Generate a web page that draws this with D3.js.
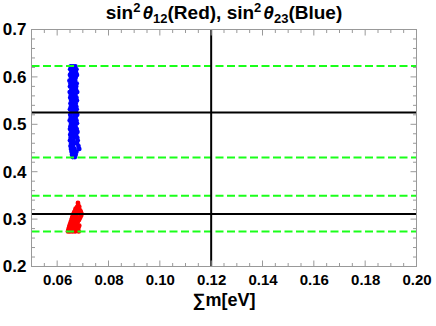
<!DOCTYPE html>
<html>
<head>
<meta charset="utf-8">
<script src="https://cdn.jsdelivr.net/npm/d3@7"></script>
<style>
  body { margin: 0; background: #fff; }
  text { font-family: "Liberation Sans", Arial, sans-serif; font-weight: bold; }
</style>
</head>
<body>
<div id="chart"></div>
<script>
// axis ranges and ticks
var xDomain = [0.05, 0.20];
var yDomain = [0.2, 0.7];
var xTicks = [0.06, 0.08, 0.10, 0.12, 0.14, 0.16, 0.18, 0.20];
var yTicks = [0.2, 0.3, 0.4, 0.5, 0.6, 0.7];

// reference lines
var blackH = [0.525, 0.311];
var blackV = [0.12];
var greenH = [0.623, 0.430, 0.349, 0.274];

// sin^2 theta23 (blue) points: [sum m, value]
var bluePts = [
  [0.0653,0.622],[0.0662,0.622],[0.0671,0.622],
  [0.0651,0.616],[0.0664,0.616],[0.0675,0.616],
  [0.0655,0.610],[0.0661,0.610],[0.0673,0.610],
  [0.0650,0.604],[0.0666,0.604],[0.0677,0.604],
  [0.0654,0.598],[0.0663,0.598],[0.0672,0.598],
  [0.0648,0.592],[0.0660,0.592],[0.0670,0.592],
  [0.0652,0.586],[0.0665,0.586],[0.0676,0.586],
  [0.0650,0.580],[0.0662,0.580],[0.0674,0.580],
  [0.0656,0.574],[0.0667,0.574],[0.0673,0.574],
  [0.0649,0.568],[0.0661,0.568],[0.0678,0.568],
  [0.0653,0.562],[0.0664,0.562],[0.0671,0.562],
  [0.0651,0.556],[0.0663,0.556],[0.0675,0.556],
  [0.0655,0.550],[0.0666,0.550],[0.0677,0.550],
  [0.0652,0.544],[0.0660,0.544],[0.0672,0.544],
  [0.0654,0.538],[0.0665,0.538],[0.0674,0.538],
  [0.0650,0.532],[0.0662,0.532],[0.0676,0.532],
  [0.0656,0.526],[0.0664,0.526],[0.0673,0.526],
  [0.0651,0.520],[0.0667,0.520],[0.0678,0.520],
  [0.0653,0.514],[0.0661,0.514],[0.0672,0.514],
  [0.0649,0.508],[0.0663,0.508],[0.0675,0.508],
  [0.0655,0.502],[0.0666,0.502],[0.0677,0.502],
  [0.0652,0.496],[0.0662,0.496],[0.0671,0.496],
  [0.0650,0.490],[0.0664,0.490],[0.0676,0.490],
  [0.0654,0.484],[0.0665,0.484],[0.0679,0.484],
  [0.0651,0.478],[0.0661,0.478],[0.0674,0.478],
  [0.0653,0.472],[0.0667,0.472],[0.0678,0.472],
  [0.0650,0.466],[0.0663,0.466],[0.0680,0.466],
  [0.0655,0.460],[0.0666,0.460],[0.0677,0.460],
  [0.0652,0.454],[0.0662,0.454],[0.0683,0.454],
  [0.0654,0.448],[0.0668,0.448],[0.0686,0.448],
  [0.0656,0.442],[0.0664,0.442],[0.0675,0.442],
  [0.0658,0.436],[0.0666,0.436],[0.0672,0.436],
  [0.0661,0.431],[0.0669,0.431]
];

// sin^2 theta12 (red) points
var redPts = [
  [0.0642,0.274],[0.0650,0.274],[0.0660,0.274],[0.0670,0.274],[0.0684,0.274],
  [0.0644,0.278],[0.0655,0.278],[0.0668,0.278],[0.0680,0.278],
  [0.0646,0.282],[0.0658,0.282],[0.0671,0.282],[0.0683,0.282],
  [0.0648,0.286],[0.0660,0.286],[0.0674,0.286],[0.0686,0.286],
  [0.0651,0.290],[0.0663,0.290],[0.0677,0.290],
  [0.0653,0.294],[0.0665,0.294],[0.0680,0.294],
  [0.0656,0.298],[0.0668,0.298],[0.0685,0.298],
  [0.0658,0.302],[0.0671,0.302],[0.0688,0.302],
  [0.0660,0.306],[0.0674,0.306],[0.0692,0.306],
  [0.0663,0.310],[0.0677,0.310],[0.0695,0.310],
  [0.0666,0.314],[0.0680,0.314],[0.0693,0.314],
  [0.0670,0.318],[0.0683,0.318],[0.0690,0.318],
  [0.0672,0.322],[0.0685,0.322],
  [0.0678,0.326],[0.0686,0.326],
  [0.0682,0.330],
  [0.0681,0.334]
];

var W = 436, H = 326;
var margin = { top: 29.5, right: 19.5, bottom: 59.5, left: 31.5 };
var width = W - margin.left - margin.right;
var height = H - margin.top - margin.bottom;

var svg = d3.select("#chart").append("svg")
  .attr("width", W).attr("height", H);

var g = svg.append("g")
  .attr("transform", "translate(" + margin.left + "," + margin.top + ")");

var x = d3.scaleLinear().domain(xDomain).range([0, width]);
var y = d3.scaleLinear().domain(yDomain).range([height, 0]);

// points
g.selectAll(".blue").data(bluePts).enter().append("circle")
  .attr("cx", function(d) { return x(d[0]); })
  .attr("cy", function(d) { return y(d[1]); })
  .attr("r", 2.4)
  .attr("fill", "#0000ff");

g.selectAll(".red").data(redPts).enter().append("circle")
  .attr("cx", function(d) { return x(d[0]); })
  .attr("cy", function(d) { return y(d[1]); })
  .attr("r", 2.4)
  .attr("fill", "#ff0000");

// green dashed lines
g.selectAll(".green").data(greenH).enter().append("line")
  .attr("x1", 0).attr("x2", width)
  .attr("y1", function(d) { return y(d); })
  .attr("y2", function(d) { return y(d); })
  .attr("stroke", "#1aff1a")
  .attr("stroke-width", 2)
  .attr("stroke-dasharray", "8,3.5");

// black lines
g.selectAll(".bh").data(blackH).enter().append("line")
  .attr("x1", 0).attr("x2", width)
  .attr("y1", function(d) { return y(d); })
  .attr("y2", function(d) { return y(d); })
  .attr("stroke", "#000").attr("stroke-width", 2);

g.selectAll(".bv").data(blackV).enter().append("line")
  .attr("y1", 0).attr("y2", height)
  .attr("x1", function(d) { return x(d); })
  .attr("x2", function(d) { return x(d); })
  .attr("stroke", "#000").attr("stroke-width", 2);

// frame with inward ticks on all sides
var xMinor = d3.range(0.05, 0.2001, 0.005);
var yMinor = d3.range(0.2, 0.7001, 0.02);
var tickCol = "#999";

function isMajor(v, list) {
  return list.some(function(t) { return Math.abs(t - v) < 1e-6; });
}

g.append("rect").attr("width", width).attr("height", height)
  .attr("fill", "none").attr("stroke", tickCol).attr("stroke-width", 1);

xMinor.forEach(function(v) {
  var len = isMajor(v, xTicks) ? 6 : 3.5;
  g.append("line").attr("x1", x(v)).attr("x2", x(v))
    .attr("y1", height).attr("y2", height - len).attr("stroke", tickCol);
  g.append("line").attr("x1", x(v)).attr("x2", x(v))
    .attr("y1", 0).attr("y2", len).attr("stroke", tickCol);
});
yMinor.forEach(function(v) {
  var len = isMajor(v, yTicks) ? 6 : 3.5;
  g.append("line").attr("y1", y(v)).attr("y2", y(v))
    .attr("x1", 0).attr("x2", len).attr("stroke", tickCol);
  g.append("line").attr("y1", y(v)).attr("y2", y(v))
    .attr("x1", width).attr("x2", width - len).attr("stroke", tickCol);
});

// tick labels
g.append("g").attr("transform", "translate(0," + height + ")")
  .call(d3.axisBottom(x).tickValues(xTicks).tickSize(0).tickPadding(8)
    .tickFormat(d3.format(".2f")))
  .call(function(a) { a.select(".domain").remove(); })
  .selectAll("text").style("font-size", "15px").attr("fill", "#000");

g.append("g")
  .call(d3.axisLeft(y).tickValues(yTicks).tickSize(0).tickPadding(5)
    .tickFormat(d3.format(".1f")))
  .call(function(a) { a.select(".domain").remove(); })
  .selectAll("text").style("font-size", "17px").attr("fill", "#000");

// axis label
svg.append("text")
  .attr("x", margin.left + width / 2).attr("y", 306)
  .attr("text-anchor", "middle").style("font-size", "18px")
  .text("∑m[eV]");

// title
var title = svg.append("text")
  .attr("x", margin.left + width / 2).attr("y", 19)
  .attr("text-anchor", "middle").style("font-size", "19px");
title.append("tspan").text("sin");
title.append("tspan").attr("dy", -7).style("font-size", "13px").text("2");
title.append("tspan").attr("dy", 7).attr("dx", 2).style("font-style", "italic").text("θ");
title.append("tspan").attr("dy", 4).style("font-size", "13px").text("12");
title.append("tspan").attr("dy", -4).text("(Red), sin");
title.append("tspan").attr("dy", -7).style("font-size", "13px").text("2");
title.append("tspan").attr("dy", 7).attr("dx", 2).style("font-style", "italic").text("θ");
title.append("tspan").attr("dy", 4).style("font-size", "13px").text("23");
title.append("tspan").attr("dy", -4).text("(Blue)");
</script>
</body>
</html>
